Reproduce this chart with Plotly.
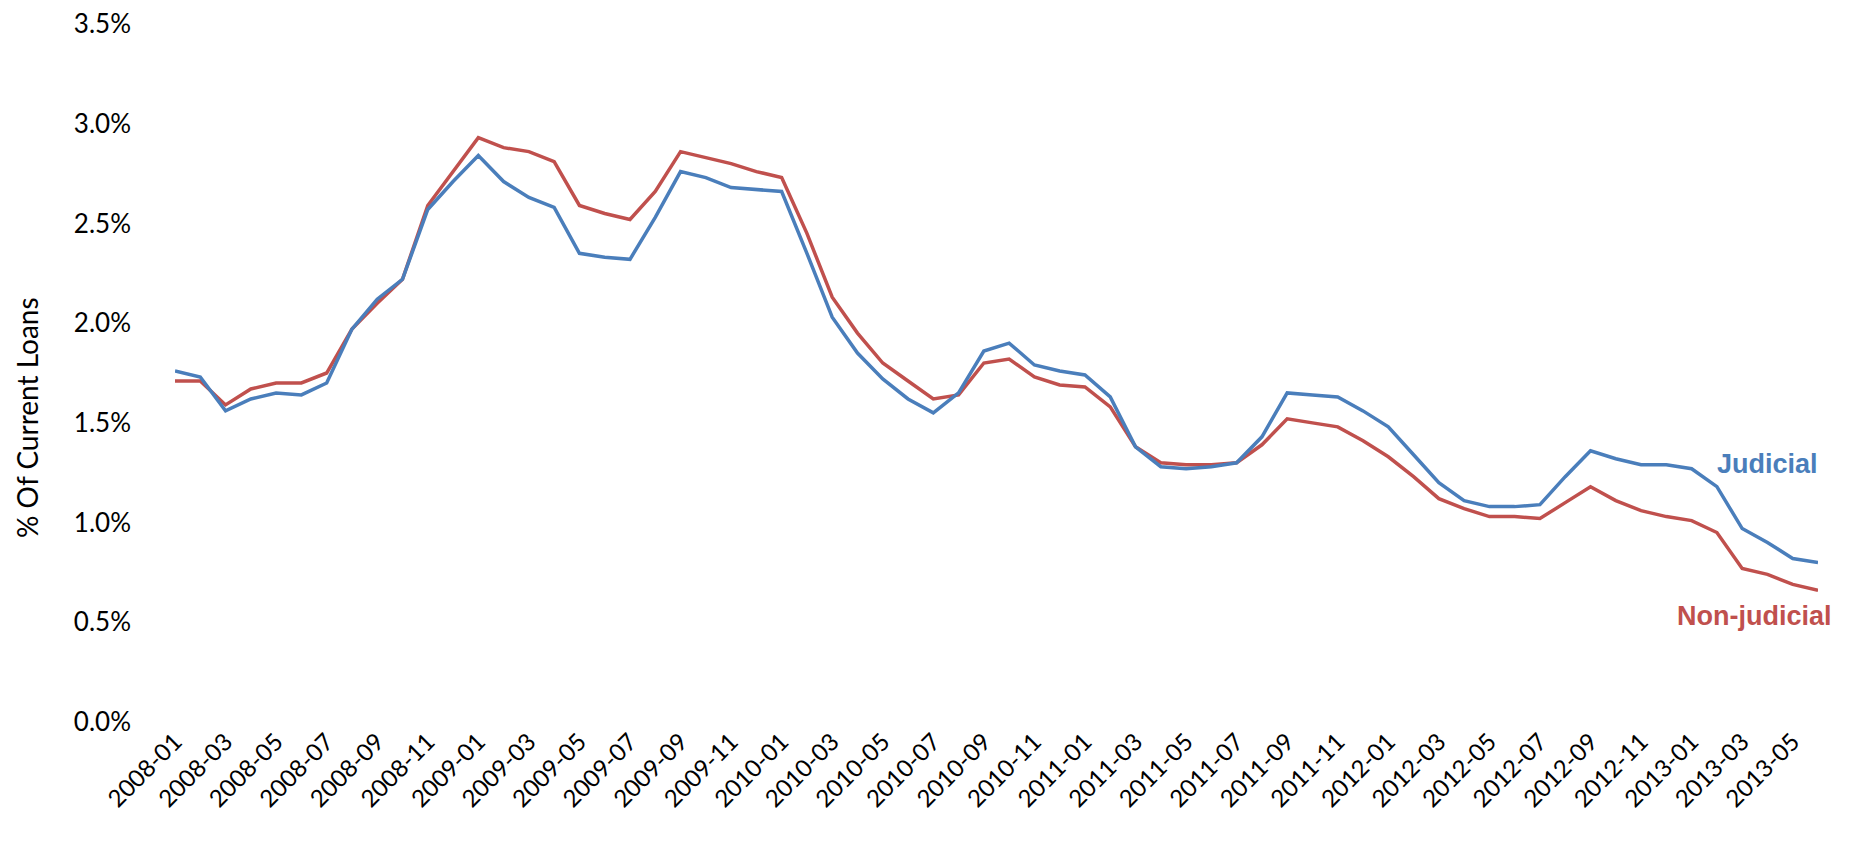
import plotly.graph_objects as go

months = [f"{y}-{m:02d}" for y in range(2008, 2014) for m in range(1, 13)][:66]

judicial = [1.76, 1.73, 1.56, 1.62, 1.65, 1.64, 1.70, 1.97, 2.12, 2.22, 2.57, 2.71,
            2.84, 2.71, 2.63, 2.58, 2.35, 2.33, 2.32, 2.53, 2.76, 2.73, 2.68, 2.67,
            2.66, 2.35, 2.03, 1.85, 1.72, 1.62, 1.55, 1.65, 1.86, 1.90, 1.79, 1.76,
            1.74, 1.63, 1.38, 1.28, 1.27, 1.28, 1.30, 1.43, 1.65, 1.64, 1.63, 1.56,
            1.48, 1.34, 1.20, 1.11, 1.08, 1.08, 1.09, 1.23, 1.36, 1.32, 1.29, 1.29,
            1.27, 1.18, 0.97, 0.90, 0.82, 0.80]

non_judicial = [1.71, 1.71, 1.59, 1.67, 1.70, 1.70, 1.75, 1.97, 2.10, 2.22, 2.59, 2.76,
                2.93, 2.88, 2.86, 2.81, 2.59, 2.55, 2.52, 2.66, 2.86, 2.83, 2.80, 2.76,
                2.73, 2.45, 2.13, 1.95, 1.80, 1.71, 1.62, 1.64, 1.80, 1.82, 1.73, 1.69,
                1.68, 1.58, 1.38, 1.30, 1.29, 1.29, 1.30, 1.39, 1.52, 1.50, 1.48, 1.41,
                1.33, 1.23, 1.12, 1.07, 1.03, 1.03, 1.02, 1.10, 1.18, 1.11, 1.06, 1.03,
                1.01, 0.95, 0.77, 0.74, 0.69, 0.66]

tick_labels = months[::2]
y_ticks = [0, 0.5, 1.0, 1.5, 2.0, 2.5, 3.0, 3.5]
y_tick_text = [f"{v:.1f}%" for v in y_ticks]

BLUE = "#4A7EBB"
RED = "#C0504D"

# figure sized to fit inside the page's default 8px body margin
W, H = 1834, 836
ml, mr, mt, mb = 167, 24, 16, 122
pw, ph = W - ml - mr, H - mt - mb


def px_to_paper(fx, fy):
    return (fx - ml) / pw, (H - mb - fy) / ph


fig = go.Figure()
fig.add_trace(go.Scatter(x=months, y=non_judicial, mode="lines", name="Non-judicial",
                         line=dict(color=RED, width=3.5), cliponaxis=False))
fig.add_trace(go.Scatter(x=months, y=judicial, mode="lines", name="Judicial",
                         line=dict(color=BLUE, width=3.5), cliponaxis=False))

tx, ty = px_to_paper(19, 410)
jx, jy = px_to_paper(1759, 456)
nx, ny = px_to_paper(1746, 608)

fig.update_layout(
    width=W, height=H,
    margin=dict(l=ml, r=mr, t=mt, b=mb),
    paper_bgcolor="white", plot_bgcolor="white",
    showlegend=False,
    font=dict(family="Lato, Carlito, sans-serif", color="#000000"),
    xaxis=dict(
        type="category",
        range=[0, len(months) - 1],
        tickmode="array", tickvals=tick_labels, ticktext=tick_labels,
        tickangle=-45, tickfont=dict(size=24, family="Lato"),
        showgrid=False, showline=False, zeroline=False, ticks="",
        ticklabeloverflow="allow", automargin=False,
    ),
    yaxis=dict(
        range=[0, 3.5],
        tickmode="array", tickvals=y_ticks, ticktext=y_tick_text,
        tickfont=dict(size=26, family="Lato"),
        showgrid=False, showline=False, zeroline=False, ticks="",
        ticklabelstandoff=43,
        ticklabeloverflow="allow", automargin=False,
    ),
    annotations=[
        dict(text="% Of Current Loans", textangle=-90, xref="paper", yref="paper",
             x=tx, y=ty, xanchor="center", yanchor="middle", showarrow=False,
             font=dict(size=28, family="Lato", color="#000000")),
        dict(text="<b>Judicial</b>", xref="paper", yref="paper", x=jx, y=jy,
             showarrow=False, xanchor="center", yanchor="middle",
             font=dict(size=27, family="Liberation Sans, Arial", color=BLUE)),
        dict(text="<b>Non-judicial</b>", xref="paper", yref="paper", x=nx, y=ny,
             showarrow=False, xanchor="center", yanchor="middle",
             font=dict(size=27, family="Liberation Sans, Arial", color=RED)),
    ],
)

fig.write_html("out.html")
